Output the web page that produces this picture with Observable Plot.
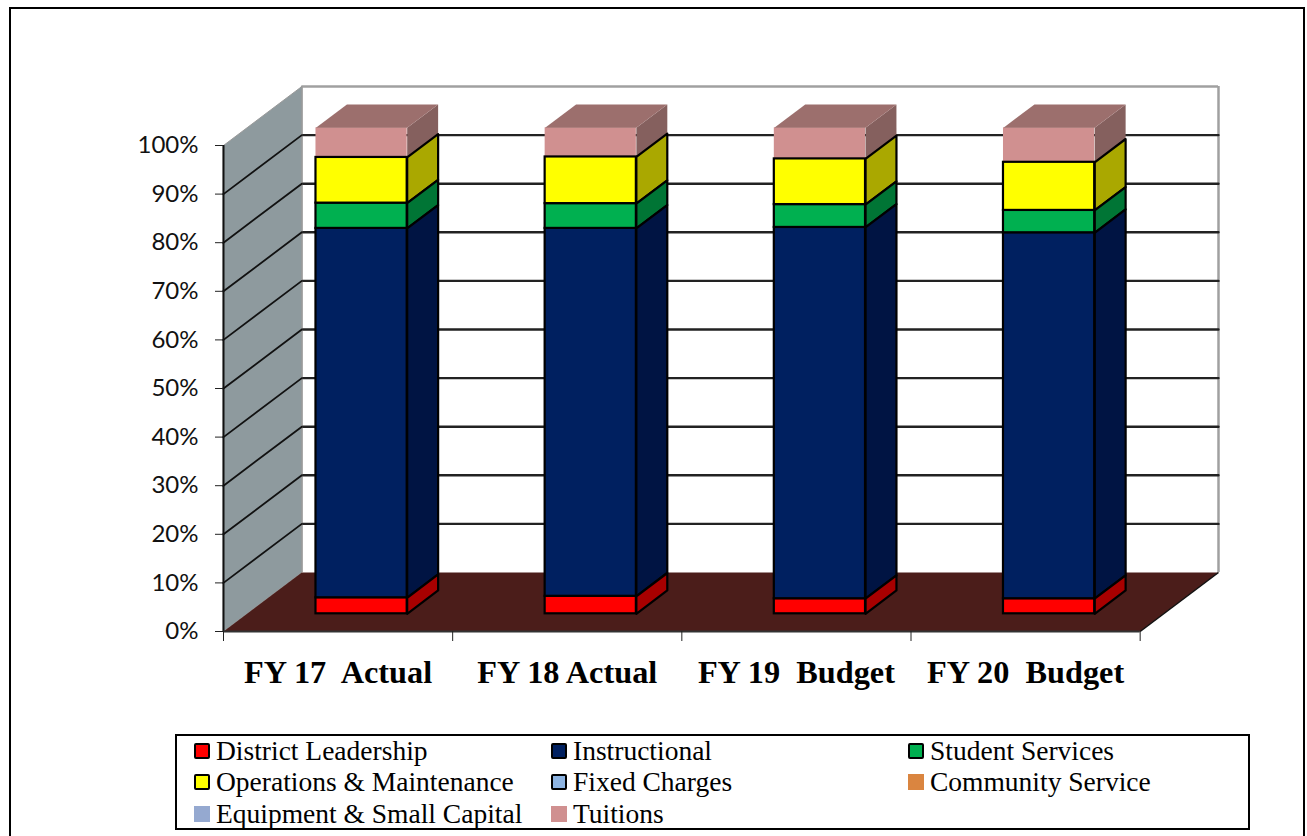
<!DOCTYPE html>
<html>
<head>
<meta charset="utf-8">
<script src="https://cdn.jsdelivr.net/npm/d3@7"></script>
<script src="https://cdn.jsdelivr.net/npm/@observablehq/plot@0.6"></script>
<style>
html,body{margin:0;padding:0;background:#fff;overflow:hidden;height:836px}
#frame{position:absolute;left:9px;top:7px;width:1296px;height:829px;border:2px solid #000;border-bottom:none;box-sizing:border-box;pointer-events:none}
#chart{position:absolute;left:0;top:0}
#chart svg{display:block}
#legend{position:absolute;left:175px;top:734px;width:1075px;height:96px;border:2px solid #000;box-sizing:border-box;background:#fff;
 font-family:"Liberation Serif",serif;font-size:27.5px;color:#000}
#legend .item{position:absolute;display:flex;align-items:center;white-space:nowrap;height:30px}
#legend .sw{width:16px;height:16px;box-sizing:border-box;margin-right:6px;flex:none}
</style>
</head>
<body>
<div id="chart"></div>
<div id="legend"></div>
<div id="frame"></div>
<script>
const categories = ["FY 17  Actual", "FY 18 Actual", "FY 19  Budget", "FY 20  Budget"];
const seriesNames = ["District Leadership", "Instructional", "Student Services", "Operations & Maintenance", "Fixed Charges", "Community Service", "Equipment & Small Capital", "Tuitions"];
const districtLeadership = [3.3, 3.6, 3.1, 3.1];
const instructional = [76.0, 75.7, 76.4, 75.3];
const studentServices = [5.2, 5.1, 4.7, 4.6];
const operations = [9.4, 9.6, 9.4, 9.9];
const fixedCharges = [0, 0, 0, 0];
const communityService = [0, 0, 0, 0];
const equipment = [0, 0, 0, 0];
const tuitions = [6.1, 6.0, 6.4, 7.1];
const seriesValues = [districtLeadership, instructional, studentServices, operations, fixedCharges, communityService, equipment, tuitions];
const frontColors = ["#ff0000", "#002060", "#00b050", "#ffff00", "#8db4e2", "#da8540", "#95a9d0", "#d09090"];
const sideColors = ["#a80000", "#001443", "#007535", "#aaa800", "#5f7a99", "#94592b", "#65738d", "#85605e"];
const topColor = "#9c6f6d";
const outlined = [true, true, true, true, true, false, false, false];
const yTicks = [0, 10, 20, 30, 40, 50, 60, 70, 80, 90, 100];
const xTicks = [0, 1, 2, 3, 4];

// 3D geometry in data units
const depthX = 0.3418, depthY = 12.14;
const barWidth = 0.398, barNear = 0.30, barFar = 0.695;
const proj = (x, y, d) => ({x: x + d * depthX, y: y + d * depthY});

const polys = [];
let pid = 0;
function poly(points, fill, edge) {
  const face = pid++;
  for (const p of points) polys.push({x: p.x, y: p.y, face, fill, edge});
}

// walls and floor
const wallPolys = (() => {
  const start = polys.length;
  poly([proj(0, 0, 0), proj(0, 0, 1), proj(0, 100, 1), proj(0, 100, 0)], "#8e9a9e", "#9a9a9a");
  poly([proj(0, 0, 0), proj(4, 0, 0), proj(4, 0, 1), proj(0, 0, 1)], "#4b1d1a", "none");
  return polys.splice(start);
})();

// gridlines, diagonal on the side wall then along the back wall
const grid = [];
yTicks.filter(t => t > 0 && t < 100).forEach(t => {
  for (const p of [proj(0, t, 0), proj(0, t, 1), proj(4, t, 1)]) grid.push({x: p.x, y: p.y, t});
});

// stacked bars
const fronts = [];
categories.forEach((c, i) => {
  let base = 0;
  const x1 = i + 0.5 - barWidth / 2, x2 = i + 0.5 + barWidth / 2;
  seriesValues.forEach((vals, s) => {
    const v = vals[i];
    if (!v) return;
    const a = base, b = base + v;
    base = b;
    const off = barNear * depthY;
    const ox = barNear * depthX;
    fronts.push({x1: x1 + ox, x2: x2 + ox, y1: a + off, y2: b + off, fill: frontColors[s], outlined: outlined[s]});
  });
});
const tuitionFronts = fronts.filter(f => !f.outlined);
const otherFronts = fronts.filter(f => f.outlined);

// side faces and top face
categories.forEach((c, i) => {
  let base = 0;
  const x2 = i + 0.5 + barWidth / 2, x1 = i + 0.5 - barWidth / 2;
  const segs = [];
  seriesValues.forEach((vals, s) => {
    const v = vals[i];
    if (!v) return;
    segs.push({a: base, b: base + v, s});
    base += v;
  });
  segs.reverse().forEach(({a, b, s}) => {
    const edge = outlined[s] ? "#000" : "none";
    poly([proj(x2, a, barNear), proj(x2, a, barFar), proj(x2, b, barFar), proj(x2, b, barNear)], sideColors[s], edge);
  });
  poly([proj(x1, base, barNear), proj(x2, base, barNear), proj(x2, base, barFar), proj(x1, base, barFar)], topColor, "none");
});

const W = 1307, H = 734;
const labelFont = '"Liberation Serif", serif';
const chart = Plot.plot({
  width: W, height: H,
  marginLeft: 223, marginRight: W - 1218, marginTop: 86, marginBottom: H - 631,
  x: {domain: [0, 4 + depthX], axis: null},
  y: {domain: [0, 100 + depthY], axis: null},
  color: {type: "identity"},
  style: {background: "transparent", whiteSpace: "pre"},
  marks: [
    // back wall outline
    Plot.ruleX([4 + depthX], {y1: depthY, y2: 100 + depthY, stroke: "#a0a0a0", strokeWidth: 2.5}),
    Plot.ruleX([depthX], {y1: depthY, y2: 100 + depthY, stroke: "#a0a0a0", strokeWidth: 2}),
    Plot.ruleY([100 + depthY], {x1: depthX, x2: 4 + depthX, stroke: "#a0a0a0", strokeWidth: 2.5}),
    Plot.line(grid, {x: "x", y: "y", z: "t", stroke: "#222", strokeWidth: 2.4}),
    Plot.line(wallPolys.filter(d => d.fill === "#8e9a9e"), {x: "x", y: "y", z: "face", fill: "fill", stroke: "edge", curve: "linear-closed", strokeWidth: 1}),
    Plot.line(grid.filter((d, i) => i % 3 < 2), {x: "x", y: "y", z: "t", stroke: "#111", strokeWidth: 1.8}),
    Plot.line(wallPolys.filter(d => d.fill === "#4b1d1a"), {x: "x", y: "y", z: "face", fill: "fill", stroke: "edge", curve: "linear-closed"}),
    Plot.link([proj(4, 0, 0)], {x1: "x", y1: "y", x2: d => d.x + depthX, y2: d => d.y + depthY, stroke: "#111", strokeWidth: 1.5}),
    // bars
    Plot.rect(tuitionFronts, {x1: "x1", x2: "x2", y1: "y1", y2: "y2", fill: "fill"}),
    Plot.line(polys, {x: "x", y: "y", z: "face", fill: "fill", stroke: "edge", curve: "linear-closed", strokeWidth: 2.2}),
    Plot.rect(otherFronts, {x1: "x1", x2: "x2", y1: "y1", y2: "y2", fill: "fill", stroke: "#000", strokeWidth: 2.2}),
    // axes
    Plot.ruleX([0], {y1: 0, y2: 100, stroke: "#111", strokeWidth: 2}),
    Plot.ruleY([0], {x1: 0, x2: 4, stroke: "#333", strokeWidth: 2}),
    Plot.axisY({ticks: yTicks, tickFormat: d => d + "%", tickSize: 8, tickPadding: 17, label: null, stroke: "#222",
      fontSize: 24, fontFamily: "Lato, sans-serif", fill: "#111"}),
    Plot.axisX({ticks: xTicks, tickFormat: () => "", tickSize: 10, label: null, stroke: "#222"}),
    Plot.text(categories, {x: (d, i) => i + 0.5, y: () => 0, dy: 41, text: d => d, fontSize: 32.3, fontWeight: "bold", fontFamily: labelFont, fill: "#000"})
  ]
});
document.getElementById("chart").append(chart);

// legend
const legendCols = [17, 374, 731];
const legendRows = [-0.5, 31, 62.5];
const legend = document.getElementById("legend");
seriesNames.forEach((name, i) => {
  const item = document.createElement("div");
  item.className = "item";
  item.style.left = legendCols[i % 3] + "px";
  item.style.top = legendRows[Math.floor(i / 3)] + "px";
  const sw = document.createElement("span");
  sw.className = "sw";
  sw.style.background = frontColors[i];
  if (outlined[i]) { sw.style.border = "2.5px solid #000"; sw.style.borderRadius = "2px"; }
  item.append(sw, document.createTextNode(name));
  legend.append(item);
});
</script>
</body>
</html>
